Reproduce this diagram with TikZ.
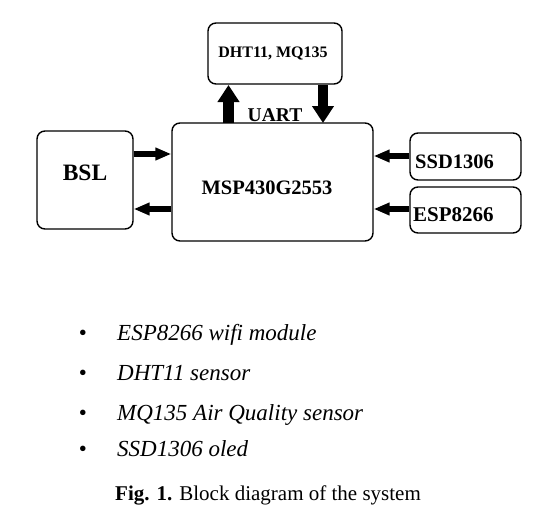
\documentclass[tikz,border=0pt]{standalone}
\usepackage{fontspec}
\setmainfont{Liberation Serif}
\usetikzlibrary{arrows.meta}
\begin{document}
\begin{tikzpicture}[x=1pt,y=-1pt,
  blk/.style={draw,line width=1.4pt,rounded corners=8pt,inner sep=0pt},
  lbl/.style={inner sep=0pt,font=\bfseries},
  bigarrow/.style={line width=10.5pt,line cap=butt,-{Triangle[width=21pt,length=17pt]}},
  sidearrow/.style={line width=6pt,line cap=butt,-{Triangle[width=12pt,length=16pt]}},
  item/.style={inner sep=0pt,anchor=base west,font=\fontsize{23}{27}\selectfont\itshape},
  bul/.style={inner sep=0pt,anchor=base,font=\fontsize{23}{27}\selectfont}]
\useasboundingbox (0,0) rectangle (554,525);
% boxes
\node[blk,minimum width=134pt,minimum height=61pt] (dht) at (275,53.5) {};
\node[blk,minimum width=201pt,minimum height=118pt] (msp) at (272.5,182) {};
\node[blk,minimum width=96pt,minimum height=98pt] (bsl) at (85,180) {};
\node[blk,minimum width=111pt,minimum height=47pt] (ssd) at (465.5,156.5) {};
\node[blk,minimum width=111pt,minimum height=46pt] (esp) at (465.5,210) {};
% labels
\node[lbl,font=\fontsize{16}{19}\selectfont\bfseries] (tdht) at (273,53) {DHT11, MQ135};
\node[lbl,font=\fontsize{20.5}{24}\selectfont\bfseries] (tmsp) at (267,188) {MSP430G2553};
\node[lbl,font=\fontsize{23.5}{28}\selectfont\bfseries] (tbsl) at (85,173) {BSL};
\node[lbl,font=\fontsize{20.5}{24}\selectfont\bfseries,anchor=west] (tssd) at (415,162) {SSD1306};
\node[lbl,font=\fontsize{21}{25}\selectfont\bfseries,anchor=west] (tesp) at (413,215) {ESP8266};
\node[lbl,font=\fontsize{19.5}{23}\selectfont\bfseries] (tuart) at (275,115.5) {UART};
% connectors
\coordinate (upA) at (228.5,123);
\coordinate (upB) at (228.5,85);
\coordinate (dnA) at (323,85);
\coordinate (dnB) at (323,123);
\draw[bigarrow] (upA) -- (upB);
\draw[bigarrow] (dnA) -- (dnB);
\draw[sidearrow] (bsl.east |- 0,154) -- (msp.west |- 0,154);
\draw[sidearrow] (msp.west |- 0,209) -- (bsl.east |- 0,209);
\draw[sidearrow] (ssd.west |- 0,156) -- (msp.east |- 0,156);
\draw[sidearrow] (esp.west |- 0,209) -- (msp.east |- 0,209);
% bullet list
\node[bul] (b1) at (83,340) {•};
\node[bul] (b2) at (83,380) {•};
\node[bul] (b3) at (83,420) {•};
\node[bul] (b4) at (83,456.5) {•};
\node[item] (i1) at (117,340) {ESP8266 wifi module};
\node[item] (i2) at (117,380) {DHT11 sensor};
\node[item] (i3) at (117,420) {MQ135 Air Quality sensor};
\node[item] (i4) at (117,456.5) {SSD1306 oled};
% caption
\node[inner sep=0pt,anchor=base west,font=\fontsize{21}{25}\selectfont] (cap) at (115,500) {\textbf{Fig. 1.} Block diagram of the system};
\end{tikzpicture}
\end{document}
